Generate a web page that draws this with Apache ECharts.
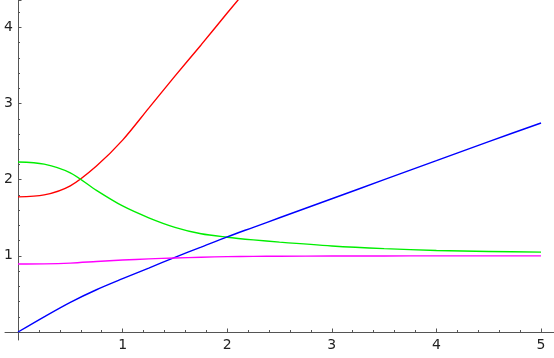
<!DOCTYPE html>
<html>
<head>
<meta charset="utf-8">
<script src="https://cdn.jsdelivr.net/npm/echarts@6/dist/echarts.min.js"></script>
<style>
  html, body { margin: 0; padding: 0; background: #fff; }
  #main { width: 554px; height: 358px; }
</style>
</head>
<body>
<div id="main"></div>
<script>
// sample points along x
var xs = [0, 0.25, 0.5, 0.75, 1, 1.25, 1.5, 1.75, 2, 2.25, 2.5, 3, 3.5, 4, 4.5, 5];
var redY = [1.775, 1.80, 1.92, 2.18, 2.52, 2.94, 3.36, 3.77, 4.19, 4.60, 5.02];
var greenY = [2.233, 2.205, 2.09, 1.86, 1.655, 1.50, 1.375, 1.29, 1.245, 1.21, 1.18, 1.13, 1.095, 1.07, 1.058, 1.049];
var blueY = [0, 0.2, 0.39, 0.555, 0.70, 0.84, 0.98, 1.115, 1.25, 1.375, 1.50, 1.75, 2.0, 2.25, 2.5, 2.745];
var magentaY = [0.893, 0.895, 0.905, 0.925, 0.945, 0.96, 0.972, 0.982, 0.99, 0.993, 0.995, 0.998, 0.999, 1.0, 1.0, 1.0];

var xLabels = [1, 2, 3, 4, 5];
var yLabels = [1, 2, 3, 4];

function pairs(ys) {
  return ys.map(function (y, k) { return [xs[k], y]; });
}

var chart = echarts.init(document.getElementById('main'));

var axisColor = '#555';
var labelFont = { fontFamily: 'DejaVu Sans', fontSize: 14, color: '#222' };

// plain axis line only, used for the little stubs past the origin
function stub(gridIndex, show) {
  return {
    type: 'value', gridIndex: gridIndex, min: 0, max: 1, show: show,
    axisLine: { show: true, onZero: false, lineStyle: { color: axisColor, width: 1 } },
    axisTick: { show: false }, axisLabel: { show: false }, splitLine: { show: false }
  };
}

var option = {
  animation: false,
  grid: [
    { left: 18, right: 0, top: 0, bottom: 26 },
    { left: 5, width: 13, top: 0, bottom: 26 },
    { left: 18, width: 10, top: 332, height: 8 }
  ],
  xAxis: [{
    type: 'value', min: 0, max: 5.124, interval: 1,
    axisLine: { show: true, onZero: false, lineStyle: { color: axisColor, width: 1 } },
    axisTick: { show: true, inside: true, length: 3.5, lineStyle: { color: axisColor } },
    minorTick: { show: true, splitNumber: 5, length: 2, lineStyle: { color: axisColor } },
    axisLabel: Object.assign({ customValues: xLabels, margin: 6 }, labelFont),
    splitLine: { show: false }
  }, stub(1, true), stub(2, false)],
  yAxis: [{
    type: 'value', min: 0, max: 4.36, interval: 1,
    axisLine: { show: true, onZero: false, lineStyle: { color: axisColor, width: 1 } },
    axisTick: { show: true, inside: true, length: 3.5, lineStyle: { color: axisColor } },
    minorTick: { show: true, splitNumber: 5, length: 2, lineStyle: { color: axisColor } },
    axisLabel: Object.assign({ customValues: yLabels, margin: 5 }, labelFont),
    splitLine: { show: false }
  }, stub(1, false), stub(2, true)],
  series: [
    { name: 'red', data: pairs(redY), color: '#ff0000' },
    { name: 'green', data: pairs(greenY), color: '#00ee00' },
    { name: 'blue', data: pairs(blueY), color: '#0000ff' },
    { name: 'magenta', data: pairs(magentaY), color: '#ff00ff' }
  ].map(function (s) {
    return {
      name: s.name, type: 'line', data: s.data,
      smooth: 0.3,
      showSymbol: false, clip: true,
      lineStyle: { color: s.color, width: 1.4 },
      itemStyle: { color: s.color }
    };
  })
};

chart.setOption(option);
</script>
</body>
</html>
